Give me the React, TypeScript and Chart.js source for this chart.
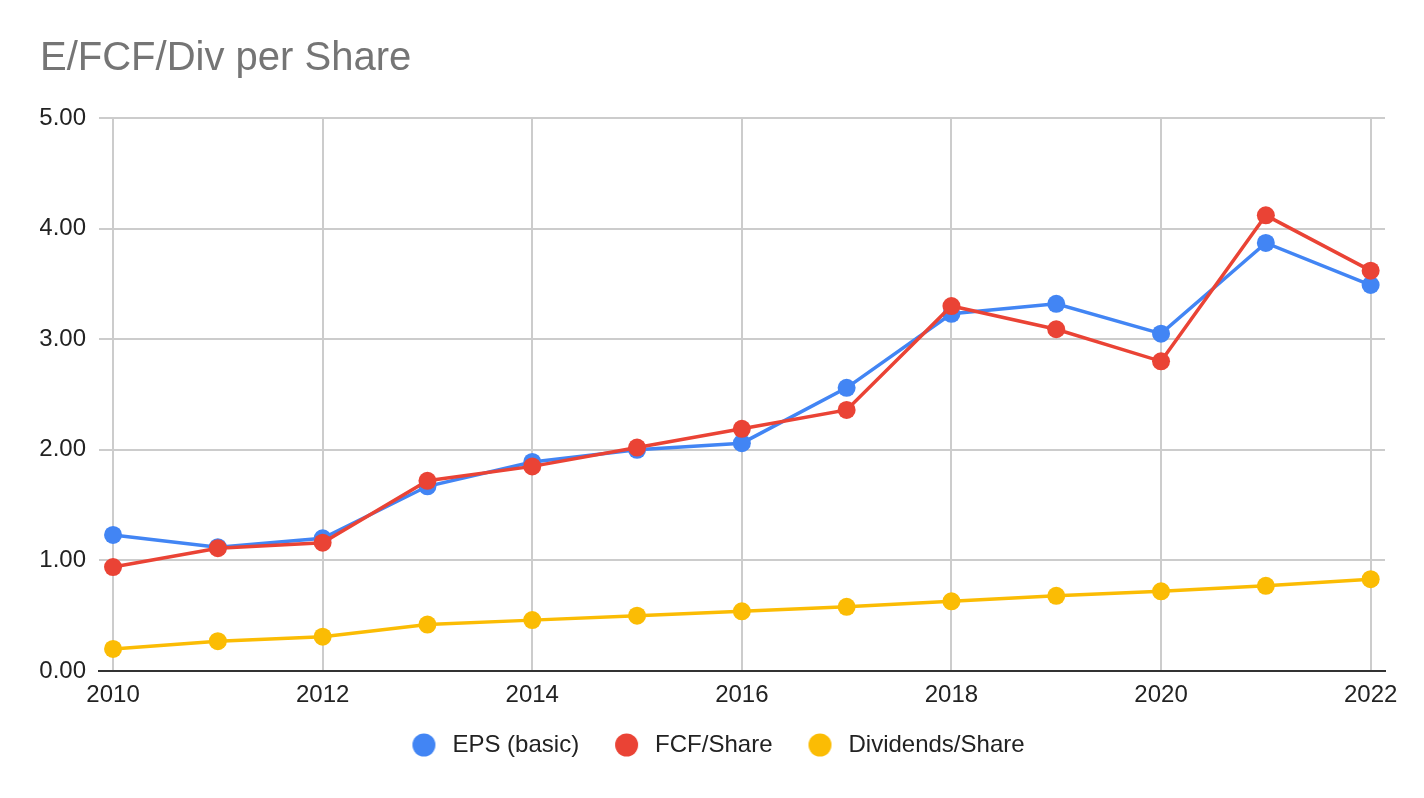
import React, { useEffect, useRef } from "react";
import { Chart, registerables } from "chart.js";

Chart.register(...registerables);

const TITLE = "E/FCF/Div per Share";
const years = [2010, 2011, 2012, 2013, 2014, 2015, 2016, 2017, 2018, 2019, 2020, 2021, 2022];
const epsBasic = [1.23, 1.12, 1.2, 1.67, 1.89, 2.0, 2.06, 2.56, 3.23, 3.32, 3.05, 3.87, 3.49];
const fcfPerShare = [0.94, 1.11, 1.16, 1.72, 1.85, 2.02, 2.19, 2.36, 3.3, 3.09, 2.8, 4.12, 3.62];
const dividendsPerShare = [0.2, 0.27, 0.31, 0.42, 0.46, 0.5, 0.54, 0.58, 0.63, 0.68, 0.72, 0.77, 0.83];
const xTickYears = [2010, 2012, 2014, 2016, 2018, 2020, 2022];
const yTickValues = [0, 1, 2, 3, 4, 5];
const seriesNames = ["EPS (basic)", "FCF/Share", "Dividends/Share"];
const seriesColors = ["#4285F4", "#EA4335", "#FBBC04"];

const FONT = "'Liberation Sans', Arial, sans-serif";
const DOT_W = 40;
const DOT_CX = 23.5;

function legendDot(color: string): HTMLCanvasElement {
  const c = document.createElement("canvas");
  c.width = DOT_W;
  c.height = 24;
  const g = c.getContext("2d")!;
  g.fillStyle = color;
  g.beginPath();
  g.arc(DOT_CX, 12, 11.5, 0, Math.PI * 2);
  g.fill();
  return c;
}

export default function App() {
  const ref = useRef<HTMLCanvasElement | null>(null);

  useEffect(() => {
    if (!ref.current) return;
    const seriesValues = [epsBasic, fcfPerShare, dividendsPerShare];
    const dots = seriesColors.map(legendDot);
    const chart = new Chart(ref.current, {
      type: "line",
      data: {
        datasets: seriesValues.map((vals, i) => ({
          label: seriesNames[i],
          data: years.map((x, j) => ({ x, y: vals[j] })),
          borderColor: seriesColors[i],
          backgroundColor: seriesColors[i],
          borderWidth: 3.5,
          pointRadius: 9,
          pointHoverRadius: 9,
          pointBorderWidth: 0,
          pointBackgroundColor: seriesColors[i],
          tension: 0,
          order: 3 - i,
        })),
      },
      options: {
        animation: false,
        responsive: true,
        maintainAspectRatio: false,
        layout: { padding: { left: 40, right: 39, top: 0, bottom: 31 } },
        plugins: {
          title: {
            display: true,
            text: TITLE,
            align: "start",
            color: "#757575",
            font: { family: FONT, size: 40, weight: "normal" },
            padding: { top: 35, bottom: 35 },
          },
          legend: {
            display: true,
            position: "bottom",
            labels: {
              usePointStyle: true,
              pointStyleWidth: DOT_W,
              padding: 24,
              color: "#222222",
              font: { family: FONT, size: 24 },
              generateLabels: (ch: any) =>
                ch.data.datasets.map((ds: any, i: number) => ({
                  text: ds.label,
                  fillStyle: seriesColors[i],
                  strokeStyle: seriesColors[i],
                  lineWidth: 0,
                  pointStyle: dots[i],
                  hidden: false,
                  datasetIndex: i,
                  fontColor: "#222222",
                })),
            },
          },
          tooltip: { enabled: false },
        },
        scales: {
          x: {
            type: "linear",
            min: 2010 - 0.134,
            max: 2022 + 0.137,
            afterBuildTicks: (axis: any) => {
              axis.ticks = xTickYears.map((v) => ({ value: v }));
            },
            afterFit: (axis: any) => {
              axis.height = 38;
            },
            ticks: {
              autoSkip: false,
              maxRotation: 0,
              padding: 10,
              color: "#222222",
              font: { family: FONT, size: 24 },
              callback: (v: any) => String(v),
            },
            grid: { color: "#cccccc", lineWidth: 2, drawTicks: false },
            border: { display: true, color: "#333333", width: 2 },
          },
          y: {
            type: "linear",
            min: 0,
            max: 5,
            afterBuildTicks: (axis: any) => {
              axis.ticks = yTickValues.map((v) => ({ value: v }));
            },
            afterFit: (axis: any) => {
              axis.width = 59;
            },
            ticks: {
              padding: 13,
              color: "#222222",
              font: { family: FONT, size: 24 },
              callback: (v: any) => Number(v).toFixed(2),
            },
            grid: { color: "#cccccc", lineWidth: 2, drawTicks: false },
            border: { display: false },
          },
        },
      } as any,
    });
    return () => chart.destroy();
  }, []);

  return (
    <div
      style={{
        position: "fixed",
        left: 0,
        top: 0,
        width: 1424,
        height: 798,
        background: "#ffffff",
      }}
    >
      <canvas ref={ref} />
    </div>
  );
}
